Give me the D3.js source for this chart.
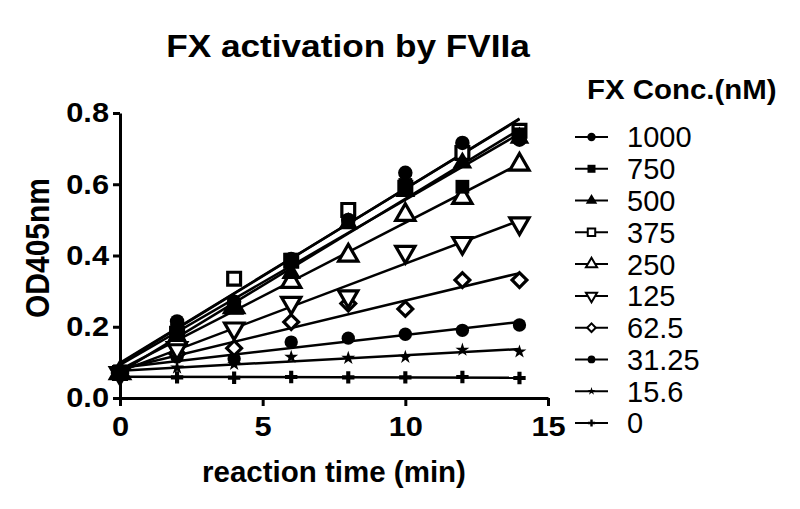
<!DOCTYPE html>
<html>
<head>
<meta charset="utf-8">
<script src="https://cdn.jsdelivr.net/npm/d3@7"></script>
<style>
  body { margin: 0; background: #fff; }
  svg { display: block; font-family: "Liberation Sans", Arial, sans-serif; }
</style>
</head>
<body>
<svg id="chart" width="800" height="509"></svg>
<script>
// reaction times (min)
const times = [0, 2, 4, 6, 8, 10, 12, 14];

// FX concentrations (nM), legend order
const concs = ["1000", "750", "500", "375", "250", "125", "62.5", "31.25", "15.6", "0"];
const shapes = ["circle", "square", "triangle", "squareOpen", "triangleOpen", "triangleDownOpen", "diamondOpen", "circleSmall", "star", "plus"];

// OD405nm readings per concentration
const od1000 = [0.075, 0.215, 0.27, 0.39, 0.50, 0.632, 0.716, 0.725];
const od750 = [0.075, 0.19, 0.26, 0.388, 0.494, 0.598, 0.593, 0.74];
const od500 = [0.07, 0.175, 0.25, 0.35, 0.49, 0.58, 0.66, 0.73];
const od375 = [0.07, 0.18, 0.335, 0.385, 0.528, 0.59, 0.688, 0.75];
const od250 = [0.07, 0.165, 0.255, 0.326, 0.40, 0.514, 0.562, 0.655];
const od125 = [0.07, 0.14, 0.195, 0.267, 0.285, 0.41, 0.435, 0.49];
const od62 = [0.07, 0.125, 0.14, 0.213, 0.265, 0.25, 0.331, 0.331];
const od31 = [0.07, 0.115, 0.11, 0.157, 0.168, 0.179, 0.19, 0.205];
const od15 = [0.07, 0.085, 0.095, 0.115, 0.112, 0.115, 0.135, 0.13];
const od0 = [0.062, 0.058, 0.057, 0.059, 0.058, 0.058, 0.059, 0.056];
const allOD = [od1000, od750, od500, od375, od250, od125, od62, od31, od15, od0];

const xTicks = [0, 5, 10, 15];
const yTicks = [0, 0.2, 0.4, 0.6, 0.8];

const svg = d3.select("#chart");

const x = d3.scaleLinear().domain([0, 15]).range([120, 548]);
const y = d3.scaleLinear().domain([0, 0.8]).range([398, 113]);

// marker path for a shape name, big or small (legend)
function markerPath(name, big) {
  const k = big ? 1 : 0.58;
  const sym = d3.symbol();
  switch (name) {
    case "circle": return sym.type(d3.symbolCircle).size(165 * k * k)();
    case "circleSmall": return sym.type(d3.symbolCircle).size(140 * k * k)();
    case "square": return sym.type(d3.symbolSquare).size(190 * k * k)();
    case "squareOpen": return sym.type(d3.symbolSquare).size(165 * k * k)();
    case "triangle": return sym.type(d3.symbolTriangle).size(170 * k * k)();
    case "triangleOpen":
    case "triangleDownOpen": return sym.type(d3.symbolTriangle).size(160 * k * k)();
    case "diamondOpen": return sym.type(d3.symbolSquare).size(110 * k * k)();
    case "star": return sym.type(d3.symbolStar).size(60 * k * k)();
    case "plus": return sym.type(d3.symbolCross).size(85 * k * k)();
  }
}
function markerRot(name) {
  if (name === "triangleDownOpen") return 180;
  if (name === "diamondOpen") return 45;
  return 0;
}
function drawMarker(g, name, cx, cy, big) {
  const open = name.endsWith("Open");
  g.append("path")
    .attr("d", markerPath(name, big))
    .attr("transform", `translate(${cx},${cy}) rotate(${markerRot(name)})`)
    .attr("fill", open ? "#fff" : "#000")
    .attr("stroke", "#000")
    .attr("stroke-width", open ? (big ? 3.2 : 2) : 0);
}

// least squares line per series
function fit(vals) {
  const mt = d3.mean(times), mv = d3.mean(vals);
  let sxy = 0, sxx = 0;
  times.forEach((t, i) => { sxy += (t - mt) * (vals[i] - mv); sxx += (t - mt) * (t - mt); });
  const b = sxy / sxx;
  return [mv - b * mt, b];
}

// axes
const xAxis = svg.append("g")
  .attr("transform", `translate(0,${y(0)})`)
  .call(d3.axisBottom(x).tickValues(xTicks).tickSize(8).tickSizeOuter(0).tickPadding(10));
const yAxis = svg.append("g")
  .attr("transform", `translate(${x(0)},0)`)
  .call(d3.axisLeft(y).tickValues(yTicks).tickSize(7).tickSizeOuter(0).tickPadding(3).tickFormat(d3.format(".1f")));

[xAxis, yAxis].forEach(a => {
  a.selectAll("path, line").attr("stroke", "#000").attr("stroke-width", 3);
  a.selectAll("text")
    .attr("fill", "#000")
    .style("font-size", "28px")
    .style("font-weight", "bold")
    .attr("transform", "scale(1.1,1)");
});
xAxis.selectAll("text").attr("dy", "0.7em");

// fitted lines
const plot = svg.append("g");
allOD.forEach(vals => {
  const [a, b] = fit(vals);
  plot.append("line")
    .attr("x1", x(0)).attr("y1", y(a))
    .attr("x2", x(14)).attr("y2", y(a + b * 14))
    .attr("stroke", "#000").attr("stroke-width", 2.5);
});

// points, last concentrations drawn first
for (let s = allOD.length - 1; s >= 0; s--) {
  allOD[s].forEach((v, i) => drawMarker(plot, shapes[s], x(times[i]), y(v), true));
}

// titles
svg.append("text")
  .attr("transform", "translate(348,57) scale(1.1,1)")
  .attr("text-anchor", "middle")
  .style("font-size", "32px").style("font-weight", "bold")
  .text("FX activation by FVIIa");

svg.append("text")
  .attr("transform", "translate(334,482)")
  .attr("text-anchor", "middle")
  .style("font-size", "29.5px").style("font-weight", "bold")
  .text("reaction time (min)");

svg.append("text")
  .attr("transform", "translate(49,248) scale(1.08,1) rotate(-90)")
  .attr("text-anchor", "middle")
  .style("font-size", "30px").style("font-weight", "bold")
  .text("OD405nm");

// legend
const legend = svg.append("g");
legend.append("text")
  .attr("transform", "translate(587,99) scale(1.09,1)")
  .style("font-size", "27px").style("font-weight", "bold")
  .text("FX Conc.(nM)");

const rowY = d3.scalePoint().domain(concs).range([137, 423]);
concs.forEach((c, i) => {
  const ry = rowY(c);
  legend.append("line")
    .attr("x1", 575).attr("x2", 608).attr("y1", ry).attr("y2", ry)
    .attr("stroke", "#000").attr("stroke-width", 2);
  drawMarker(legend, shapes[i], 591.5, ry, false);
  legend.append("text")
    .attr("transform", `translate(627,${ry})`)
    .attr("dy", "0.36em")
    .style("font-size", "29px")
    .text(c);
});
</script>
</body>
</html>
